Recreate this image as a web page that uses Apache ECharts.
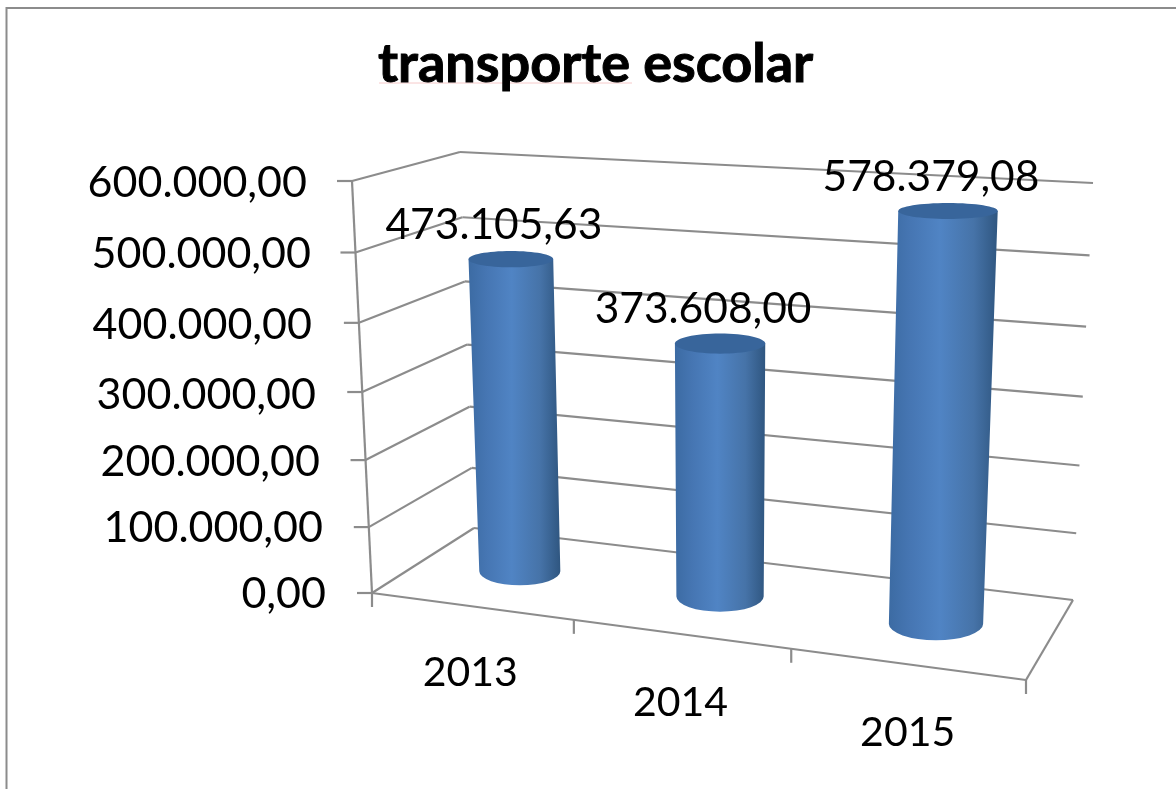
<!DOCTYPE html>
<html>
<head>
<meta charset="utf-8">
<title>transporte escolar</title>
<script src="https://cdn.jsdelivr.net/npm/echarts@6/dist/echarts.min.js"></script>
<style>
html, body { margin: 0; padding: 0; background: #fff; }
#chart { width: 1176px; height: 789px; }
</style>
</head>
<body>
<div id="chart"></div>
<script>
var categories = ['2013', '2014', '2015'];
var values = [473105.63, 373608.00, 578379.08];
var yTicks = [0, 100000, 200000, 300000, 400000, 500000, 600000];

// screen corners of the 3D box, used to warp the flat grid
var FL0 = [372, 593], FL1 = [352, 181], FR0 = [1026, 680], FR1 = [1044, 221];
var BL0 = [474, 528], BL1 = [460, 152], BR0 = [1073, 600], BR1 = [1093, 183];
var lineColor = '#8c8c8c';
var fontName = 'Lato';

function lerp(a, b, t) {
	return [a[0] + (b[0] - a[0]) * t, a[1] + (b[1] - a[1]) * t];
}

// u: along the categories, d: depth (0 front, 1 back), v: height
function project(u, d, v) {
	var uu = u / (u + 1.12 * (1 - u));
	var vv = v / (v + 1.05 * (1 - v));
	var front = lerp(lerp(FL0, FR0, uu), lerp(FL1, FR1, uu), vv);
	var back = lerp(lerp(BL0, BR0, uu), lerp(BL1, BR1, uu), vv);
	return lerp(front, back, d);
}

function toUnit(api, params, x, val) {
	var c = api.coord([x, val]);
	var cs = params.coordSys;
	return [(c[0] - cs.x) / cs.width, (cs.y + cs.height - c[1]) / cs.height];
}

function line(a, b) {
	return {
		type: 'line',
		shape: { x1: a[0], y1: a[1], x2: b[0], y2: b[1] },
		style: { stroke: lineColor, lineWidth: 2.2 }
	};
}

function renderWall(params, api) {
	var val = api.value(1);
	var v = toUnit(api, params, 0, val)[1];
	var fl = project(0, 0, v), bl = project(0, 1, v), br = project(1, 1, v);
	var kids = [
		line([fl[0] - 15, fl[1]], fl),
		line(fl, bl),
		line(bl, br)
	];
	if (val === 0) {
		var top = project(0, 0, 1);
		var fr = project(1, 0, 0);
		kids.push(line(fl, top));
		kids.push(line(fl, fr));
		kids.push(line(fr, br));
		for (var i = 0; i <= categories.length; i++) {
			var p = project(i / categories.length, 0, 0);
			kids.push(line(p, [p[0], p[1] + 14]));
		}
	}
	return { type: 'group', children: kids };
}

function renderBar(params, api) {
	var idx = api.value(0);
	var val = api.value(1);
	var base = toUnit(api, params, idx, 0);
	var head = toUnit(api, params, idx, val);
	var u = base[0], v = head[1];
	var depth = 0.52, du = 0.07, dd = 0.21;

	var b = project(u, depth, 0), t = project(u, depth, v);
	var ba = (project(u + du, depth, 0)[0] - project(u - du, depth, 0)[0]) / 2;
	var bb = (project(u, depth - dd, 0)[1] - project(u, depth + dd, 0)[1]) / 2;
	var ta = (project(u + du, depth, v)[0] - project(u - du, depth, v)[0]) / 2;
	var tb = (project(u, depth - dd, v)[1] - project(u, depth + dd, v)[1]) / 2;

	var d = 'M' + (t[0] - ta) + ' ' + t[1] +
		' L' + (b[0] - ba) + ' ' + b[1] +
		' A' + ba + ' ' + bb + ' 0 0 0 ' + (b[0] + ba) + ' ' + b[1] +
		' L' + (t[0] + ta) + ' ' + t[1] + ' Z';

	return {
		type: 'group',
		children: [
			{
				type: 'path',
				shape: { pathData: d },
				style: {
					fill: new echarts.graphic.LinearGradient(0, 0, 1, 0, [
						{ offset: 0, color: '#3c6ba3' },
						{ offset: 0.2, color: '#4676b3' },
						{ offset: 0.47, color: '#5084c4' },
						{ offset: 0.78, color: '#4673a8' },
						{ offset: 1, color: '#2f5680' }
					])
				}
			},
			{
				type: 'ellipse',
				shape: { cx: t[0], cy: t[1], rx: ta, ry: tb },
				style: { fill: '#38659b' }
			},
			{
				type: 'text',
				z2: 10,
				style: {
					x: t[0] - 17,
					y: t[1] - 34,
					text: money(val),
					fill: '#000',
					font: '42.5px ' + fontName,
					textAlign: 'center',
					textVerticalAlign: 'middle'
				}
			}
		]
	};
}

function money(n) {
	return n.toLocaleString('pt-BR', { minimumFractionDigits: 2, maximumFractionDigits: 2 });
}

// y labels step along the slanted front edge: [top, right, bottom, left], same order as yTicks
var yPad = [
	[0, 0, 0, 0],
	[6, 3, 0, 0],
	[11, 6, 0, 0],
	[14, 10, 0, 0],
	[11, 14, 0, 0],
	[6, 15, 0, 0],
	[1, 19, 0, 0]
];
var yRich = {};
yTicks.forEach(function (t, i) {
	yRich['t' + i] = { fontSize: 43, fontFamily: fontName, color: '#000', padding: yPad[i] };
});

var xRich = {
	c0: { fontSize: 41, fontFamily: fontName, color: '#000', padding: [0, 0, 0, 0] },
	c1: { fontSize: 41, fontFamily: fontName, color: '#000', padding: [30, 17, 0, 0] },
	c2: { fontSize: 41, fontFamily: fontName, color: '#000', padding: [60, 0, 0, 0] }
};

var myChart = echarts.init(document.getElementById('chart'));
var option = {
	backgroundColor: '#fff',
	animation: false,
	title: {
		text: 'transporte escolar',
		left: 373,
		top: 33,
		textStyle: {
			fontFamily: fontName, fontSize: 54, fontWeight: 'bold', color: '#000',
			textBorderColor: '#000', textBorderWidth: 1
		}
	},
	grid: { left: 361, top: 183, width: 656, height: 411 },
	xAxis: {
		type: 'category',
		data: categories,
		axisLine: { show: false },
		axisTick: { show: false },
		axisLabel: {
			margin: 58,
			interval: 0,
			formatter: function (val) {
				return '{c' + categories.indexOf(val) + '|' + val + '}';
			},
			rich: xRich
		}
	},
	yAxis: {
		type: 'value',
		min: 0,
		max: 600000,
		interval: 100000,
		axisLine: { show: false },
		axisTick: { show: false },
		splitLine: { show: false },
		axisLabel: {
			margin: 35,
			formatter: function (val) {
				return '{t' + yTicks.indexOf(val) + '|' + money(val) + '}';
			},
			rich: yRich
		}
	},
	series: [
		{
			type: 'custom',
			name: 'walls',
			coordinateSystem: 'cartesian2d',
			silent: true,
			z: 1,
			clip: false,
			renderItem: renderWall,
			data: yTicks.map(function (t) { return [0, t]; })
		},
		{
			type: 'custom',
			name: 'transporte escolar',
			coordinateSystem: 'cartesian2d',
			z: 2,
			clip: false,
			renderItem: renderBar,
			data: values.map(function (val, i) { return [i, val]; })
		}
	],
	graphic: [
		{
			type: 'polyline',
			silent: true,
			shape: { points: [[6.5, 789], [6.5, 8], [1176, 8]] },
			style: { stroke: lineColor, lineWidth: 2, fill: null }
		},
		{
			type: 'line',
			silent: true,
			shape: { x1: 379, y1: 83, x2: 632, y2: 83 },
			style: { stroke: '#f6caca', lineWidth: 1 }
		}
	]
};
myChart.setOption(option);
</script>
</body>
</html>
